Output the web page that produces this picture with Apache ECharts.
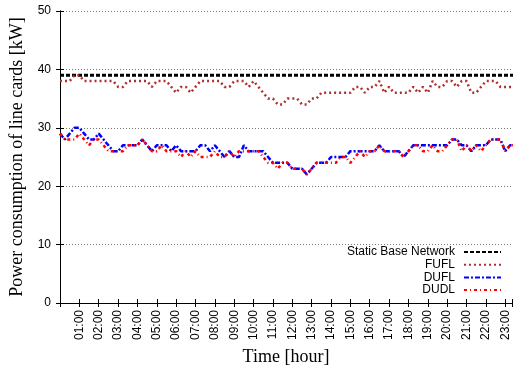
<!DOCTYPE html>
<html>
<head>
<meta charset="utf-8">
<script src="https://cdn.jsdelivr.net/npm/echarts@6/dist/echarts.min.js"></script>
<style>
  html, body { margin: 0; padding: 0; background: #fff; }
  #chart { width: 513px; height: 376px; }
</style>
</head>
<body>
<div id="chart"></div>
<script>
// Hour tick labels along the time axis (01:00 .. 23:00)
const hourLabels = ['01:00','02:00','03:00','04:00','05:00','06:00','07:00','08:00','09:00','10:00','11:00','12:00',
  '13:00','14:00','15:00','16:00','17:00','18:00','19:00','20:00','21:00','22:00','23:00'];

// Power of line cards [kW], one sample every 15 minutes from 00:00
const staticBase = [39,39,39,39,39,39,39,39,39,39,39,39,39,39,39,39,39,39,39,39,39,39,39,39,
  39,39,39,39,39,39,39,39,39,39,39,39,39,39,39,39,39,39,39,39,39,39,39,39,
  39,39,39,39,39,39,39,39,39,39,39,39,39,39,39,39,39,39,39,39,39,39,39,39,
  39,39,39,39,39,39,39,39,39,39,39,39,39,39,39,39,39,39,39,39,39,39,39];

const fufl = [38,38,38,39,39,38,38,38,38,38,38,38,37,37,38,38,38,38,38,37,38,38,38,37,
  36,37,37,36,37,38,38,38,38,38,37,37,38,38,38,37,38,37,36,35,35,34,34,35,
  35,35,34,34,35,35,36,36,36,36,36,36,36,37,37,36,37,37,38,36,37,36,36,36,
  36,37,36,37,36,38,37,37,38,38,37,38,38,36,36,37,38,38,38,37,37,37,37];

const dufl = [29,28,29,30,30,29,28,28,29,28,27,26,26,27,27,27,27,28,27,26,27,27,27,26,
  27,26,26,26,26,27,27,26,27,26,25,26,25,25,27,26,26,26,26,25,24,24,24,24,
  23,23,23,22,23,24,24,24,25,25,25,25,26,26,26,26,26,26,27,26,26,26,26,25,
  26,27,27,27,27,27,27,27,27,28,28,27,27,26,27,27,27,28,28,28,26,27,27];

const dudl = [29,28,28,28,29,28,27,28,28,27,26,26,26,26,27,27,27,28,27,26,26,27,26,26,
  26,25,26,25,26,25,25,25,26,25,25,26,25,26,26,26,26,26,25,24,24,23,24,24,
  23,23,23,22,23,24,24,24,24,24,25,25,24,25,26,25,26,26,27,26,26,26,26,25,
  26,27,27,26,26,27,26,26,27,28,28,26,27,26,27,26,27,28,28,28,26,27,27];

// Sample times in hours (15-minute grid)
const times = staticBase.map((_, i) => i / 4);
const pairs = arr => arr.map((v, i) => [times[i], v]);

const sans = 'Liberation Sans';
const serif = 'Liberation Serif';

const chart = echarts.init(document.getElementById('chart'), null, { renderer: 'canvas' });

const lineSeries = (name, data, color, width, dash, z) => ({
  name, type: 'line', data: pairs(data), symbol: 'none', clip: true, z,
  lineStyle: { color, width, type: dash, cap: 'butt' },
  itemStyle: { color },
  emphasis: { disabled: true },
  animation: false
});

chart.setOption({
  animation: false,
  backgroundColor: '#fff',
  grid: { left: 60, top: 11, width: 452, height: 292, containLabel: false },
  legend: {
    orient: 'vertical', right: 11, top: 246, padding: 0, itemGap: 0.7,
    align: 'right', itemWidth: 37, itemHeight: 6,
    itemStyle: { opacity: 0 },
    textStyle: { fontFamily: sans, fontSize: 12, color: '#000', lineHeight: 12, padding: [0, 4, 0, 0] },
    data: ['Static Base Network', 'FUFL', 'DUFL', 'DUDL']
  },
  xAxis: [{
    type: 'value', min: 0, max: 23.35, interval: 1, position: 'bottom',
    name: 'Time [hour]', nameLocation: 'middle', nameGap: 42,
    nameTextStyle: { fontFamily: serif, fontSize: 18, color: '#000' },
    axisLine: { show: true, lineStyle: { color: '#000', width: 1 } },
    axisTick: { show: true, inside: true, length: 4, lineStyle: { color: '#000' } },
    axisLabel: {
      rotate: 90, margin: 7, fontFamily: sans, fontSize: 12, color: '#000',
      showMinLabel: false, showMaxLabel: true,
      formatter: v => (v >= 1 && v <= hourLabels.length ? hourLabels[v - 1] : '')
    },
    splitLine: { show: false }
  }, {
    type: 'value', min: 0, max: 23.35, interval: 1, position: 'top',
    axisLine: { show: true, lineStyle: { color: '#000', width: 1 } },
    axisTick: { show: true, inside: true, length: 4, lineStyle: { color: '#000' } },
    axisLabel: { show: false }, splitLine: { show: false }
  }],
  yAxis: [{
    type: 'value', min: 0, max: 50, interval: 10, position: 'left',
    name: 'Power consumption of line cards [kW]', nameLocation: 'middle', nameGap: 33,
    nameTextStyle: { fontFamily: serif, fontSize: 18, color: '#000' },
    axisLine: { show: true, lineStyle: { color: '#000', width: 1 } },
    axisTick: { show: true, inside: true, length: 4, lineStyle: { color: '#000' } },
    axisLabel: { fontFamily: sans, fontSize: 12, color: '#000', margin: 9 },
    splitLine: { show: true, lineStyle: { color: '#777', width: 1, type: [1, 2] } }
  }, {
    type: 'value', min: 0, max: 50, interval: 10, position: 'right',
    axisLine: { show: true, lineStyle: { color: '#000', width: 1 } },
    axisTick: { show: true, inside: true, length: 4, lineStyle: { color: '#000' } },
    axisLabel: { show: false }, splitLine: { show: false }
  }],
  series: [
    lineSeries('Static Base Network', staticBase, '#000000', 3, [4, 2], 2),
    lineSeries('FUFL', fufl, '#b03030', 2.5, [2, 3], 3),
    lineSeries('DUFL', dufl, '#0000ff', 2.5, [5, 2, 2, 2], 4),
    lineSeries('DUDL', dudl, '#ff0000', 2.5, [3, 3, 1, 3], 5)
  ]
});
</script>
</body>
</html>
